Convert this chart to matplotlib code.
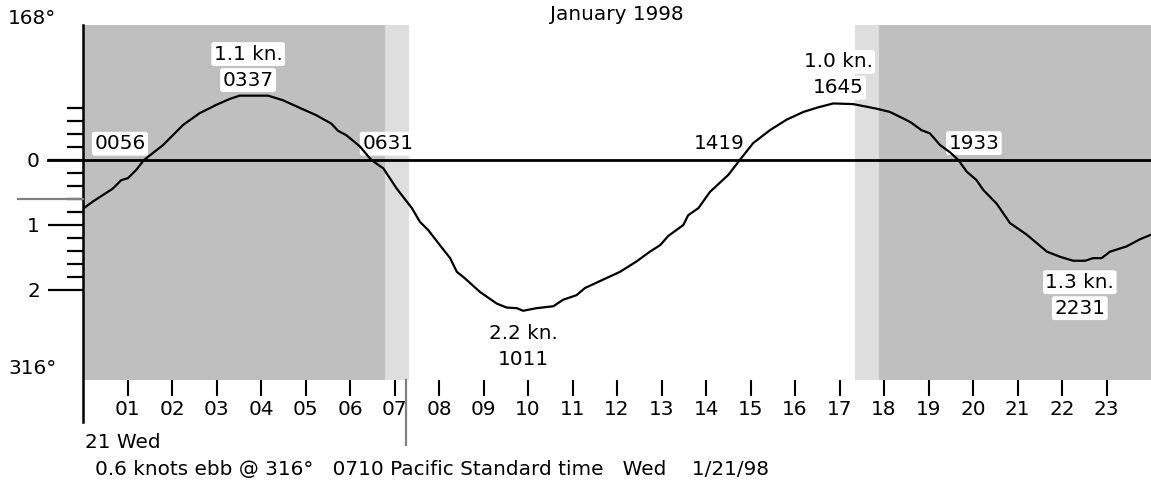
import matplotlib
matplotlib.use("Agg")
import matplotlib.pyplot as plt

# ── data ─────────────────────────────────────────────────────────────────
# hour of day vs current (knots, flood positive / ebb negative)
hours = [0.0, 0.22, 0.67, 0.86, 1.01, 1.20, 1.37, 1.80, 2.25, 2.62, 3.00, 3.30,
         3.52, 4.16, 4.49, 4.91, 5.24, 5.58, 5.73, 5.92, 6.22, 6.48, 6.75, 7.05,
         7.39, 7.57, 7.76, 8.02, 8.25, 8.40, 8.58, 8.92, 9.30, 9.52, 9.75, 9.89,
         10.19, 10.57, 10.79, 11.09, 11.28, 11.69, 12.07, 12.44, 12.74, 12.97,
         13.15, 13.49, 13.60, 13.83, 14.09, 14.50, 14.76, 15.06, 15.44, 15.81,
         16.19, 16.52, 16.86, 17.31, 17.83, 18.13, 18.43, 18.60, 18.84, 19.03,
         19.26, 19.48, 19.67, 19.86, 20.08, 20.23, 20.53, 20.83, 21.21, 21.66,
         21.96, 22.25, 22.52, 22.70, 22.89, 23.08, 23.45, 23.75, 24.0]
knots = [-0.75, -0.64, -0.44, -0.31, -0.28, -0.15, 0.0, 0.23, 0.54, 0.72, 0.85,
         0.94, 0.99, 0.99, 0.92, 0.79, 0.69, 0.56, 0.45, 0.38, 0.21, 0.0, -0.13,
         -0.44, -0.74, -0.95, -1.08, -1.31, -1.51, -1.72, -1.82, -2.03, -2.21,
         -2.27, -2.28, -2.32, -2.28, -2.25, -2.15, -2.08, -1.97, -1.84, -1.72,
         -1.56, -1.41, -1.31, -1.17, -1.00, -0.85, -0.74, -0.49, -0.23, 0.0,
         0.26, 0.46, 0.62, 0.74, 0.81, 0.87, 0.86, 0.79, 0.74, 0.64, 0.58, 0.46,
         0.41, 0.23, 0.12, 0.0, -0.18, -0.31, -0.46, -0.67, -0.97, -1.15, -1.41,
         -1.49, -1.55, -1.55, -1.51, -1.51, -1.41, -1.33, -1.22, -1.15]

# slack / max events and where their labels sit
event_labels = [["0056"], ["1.1 kn.", "0337"], ["0631"], ["2.2 kn.", "1011"],
                ["1419"], ["1.0 kn.", "1645"], ["1933"], ["1.3 kn.", "2231"]]
label_hours = [0.83, 3.71, 6.85, 9.90, 14.29, 16.97, 20.02, 22.40]
label_knots = [0.25, 1.43, 0.25, -2.87, 0.26, 1.31, 0.26, -2.08]

# twilight / daylight (hours)
civil_dawn, sunrise = 6.78, 7.33
sunset, civil_dusk = 17.35, 17.88

now_hour = 7.25
now_knots = -0.6
hour_labels = [f"{h:02d}" for h in range(1, 24)]
title = "January 1998"
dir_flood, dir_ebb = "168°", "316°"
day_label = "21 Wed"
status = "0.6 knots ebb @ 316°   0710 Pacific Standard time   Wed    1/21/98"

ymin, ymax = -3.385, 2.077
FS = 14.4
DARK, LIGHT = "#bfbfbf", "#dedede"

fig = plt.figure(figsize=(11.51, 4.87), dpi=100)
ax = fig.add_axes([83 / 1151, 107 / 487, 1068 / 1151, 355 / 487])
ax.set_xlim(0, 24)
ax.set_ylim(ymin, ymax)
for s in ax.spines.values():
    s.set_visible(False)

# night shading
ax.axvspan(0, civil_dawn, color=DARK, lw=0, zorder=0)
ax.axvspan(civil_dawn, sunrise, color=LIGHT, lw=0, zorder=0)
ax.axvspan(sunset, civil_dusk, color=LIGHT, lw=0, zorder=0)
ax.axvspan(civil_dusk, 24, color=DARK, lw=0, zorder=0)

# zero line and left axis
ax.plot([-0.79, 24], [0, 0], color="black", lw=2, clip_on=False, zorder=3)
ax.plot([0, 0], [ymax, -4.03], color="black", lw=1.8, clip_on=False, zorder=3)

# current "now" markers
ax.plot([-1.46, 0], [now_knots, now_knots], color="#808080", lw=1.6,
        clip_on=False, zorder=4)
ax.plot([now_hour, now_hour], [ymin, -4.38], color="#808080", lw=1.6,
        clip_on=False, zorder=4)

# tidal current curve
ax.plot(hours, knots, color="black", lw=1.6, zorder=5)

# event labels (stacked lines, white rounded boxes)
for lines, h, k in zip(event_labels, label_hours, label_knots):
    for i, txt in enumerate(lines):
        dy = (len(lines) - 1 - i) * 26 / 65 - (len(lines) - 1) * 13 / 65
        ax.text(h, k + dy, txt, ha="center", va="center", fontsize=FS, zorder=4,
                bbox=dict(boxstyle="round,pad=0.12", fc="white", ec="none"))

# x ticks (hours)
ax.set_xticks(range(1, 24))
ax.set_xticklabels(hour_labels, fontsize=FS)
ax.tick_params(axis="x", length=11.5, width=1.5, pad=3, direction="out")

# y ticks (knots)
ax.set_yticks([0, -1, -2])
ax.set_yticklabels(["0", "1", "2"], fontsize=FS)
ax.set_yticks([0.2, 0.4, 0.6, 0.8, -0.2, -0.4, -0.6, -0.8,
               -1.2, -1.4, -1.6, -1.8], minor=True)
ax.tick_params(axis="y", which="major", length=25, width=1.6, pad=6)
ax.tick_params(axis="y", which="minor", length=11.5, width=1.6)

# texts around the chart
fig.text(617 / 1151, 1 - 14 / 487, title, ha="center", va="center", fontsize=FS)
fig.text(8 / 1151, 1 - 19 / 487, dir_flood, ha="left", va="center", fontsize=FS)
fig.text(8 / 1151, 1 - 368 / 487, dir_ebb, ha="left", va="center", fontsize=FS)
fig.text(85 / 1151, 1 - 442 / 487, day_label, ha="left", va="center", fontsize=FS)
fig.text(95 / 1151, 1 - 470 / 487, status, ha="left", va="center", fontsize=FS)

fig.savefig("out.png", dpi=100)
